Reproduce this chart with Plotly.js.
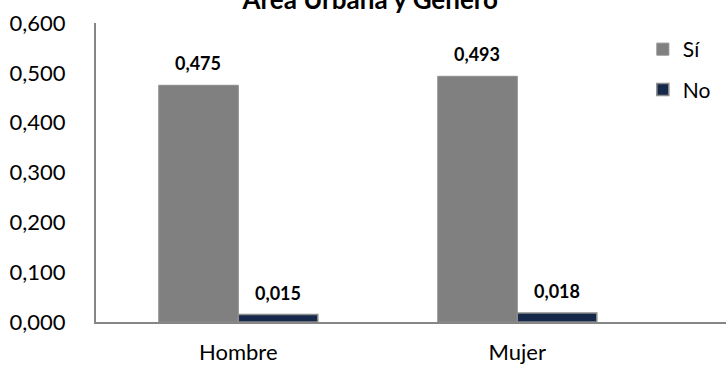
<!DOCTYPE html>
<html>
<head>
<meta charset="utf-8">
<script src="https://cdn.plot.ly/plotly-3.0.1.min.js"></script>
<style>html,body{margin:0;padding:0;background:#fff;}#chart{width:726px;height:368px;}</style>
</head>
<body>
<div id="chart"></div>
<script>
const categories = ["Hombre", "Mujer"];
const seriesNames = ["Sí", "No"];
const valuesSi = [0.475, 0.493];
const valuesNo = [0.015, 0.018];
const yTicks = [0, 0.1, 0.2, 0.3, 0.4, 0.5, 0.6];
const titleText = "Área Urbana y Género";

const FONT = "Lato, 'Liberation Sans', sans-serif";
const fmt = v => v.toFixed(3).replace('.', ',');

const traces = [
  {type: 'bar', name: seriesNames[0], x: categories, y: valuesSi, legendgroup: 'a',
   marker: {color: '#808080', line: {color: '#8c8c8c', width: 1}}, hoverinfo: 'none'},
  {type: 'bar', name: seriesNames[1], x: categories, y: valuesNo, legendgroup: 'b',
   marker: {color: '#17294a', line: {color: '#8c8c8c', width: 1.5}}, hoverinfo: 'none'}
];

const annotations = [];
[valuesSi, valuesNo].forEach((vals, s) => {
  vals.forEach((v, i) => {
    annotations.push({
      x: categories[i], y: v, xref: 'x', yref: 'y',
      text: '<b>' + fmt(v) + '</b>', showarrow: false,
      xshift: s === 0 ? -40 : 40, yanchor: 'bottom', yshift: 9,
      font: {family: FONT, size: 18, color: '#000'}
    });
  });
});

const layout = {
  width: 726, height: 368,
  margin: {l: 96, r: 0, t: 23, b: 46},
  paper_bgcolor: '#fff', plot_bgcolor: '#fff',
  separators: ',.',
  title: {text: '<b>' + titleText + '</b>', x: 0.51, xanchor: 'center', y: 1, yanchor: 'middle', yref: 'container',
          font: {family: FONT, size: 26, color: '#000'}},
  barmode: 'group', bargap: 0.43, bargroupgap: 0,
  showlegend: true,
  legend: {x: 0.868, xanchor: 'left', y: 0.98, yanchor: 'top', bgcolor: 'rgba(0,0,0,0)',
           font: {family: FONT, size: 21, color: '#000'}, tracegroupgap: 10, traceorder: 'grouped'},
  xaxis: {type: 'category', range: [-0.51, 1.748], showgrid: false, zeroline: false,
          showline: true, linecolor: '#868686', linewidth: 2, ticks: '',
          ticklabelstandoff: 10,
          tickfont: {family: FONT, size: 22, color: '#000'}},
  yaxis: {range: [0, 0.6], tickvals: yTicks, tickformat: '.3f', showgrid: false, zeroline: false,
          showline: true, linecolor: '#868686', linewidth: 2, ticks: '',
          ticklabelstandoff: 24,
          tickfont: {family: FONT, size: 22, color: '#000'}},
  annotations: annotations
};

Plotly.newPlot('chart', traces, layout, {staticPlot: true});
</script>
</body>
</html>
